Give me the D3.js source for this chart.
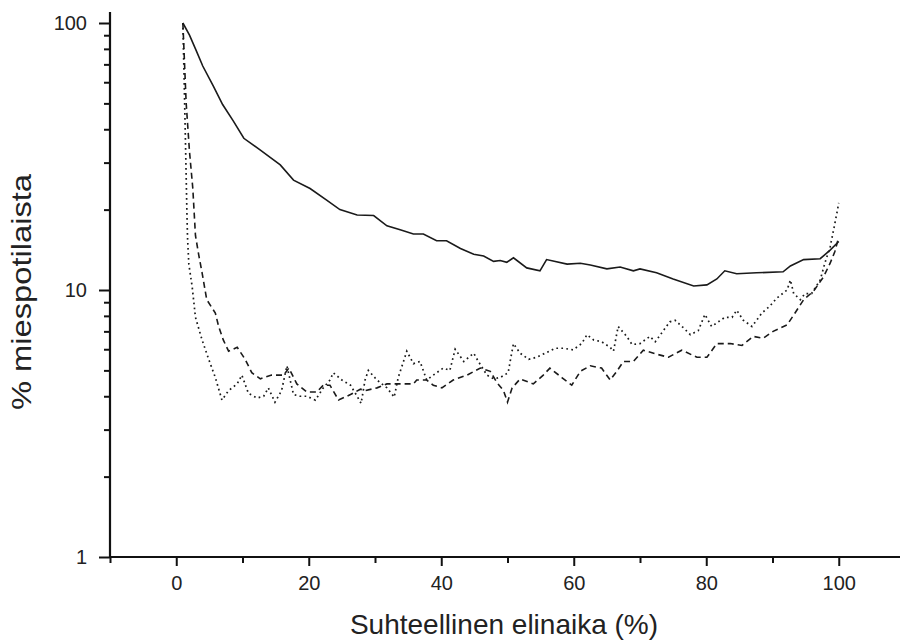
<!DOCTYPE html>
<html>
<head>
<meta charset="utf-8">
<script src="https://cdn.jsdelivr.net/npm/d3@7"></script>
<style>
  body { margin: 0; background: #fff; }
  svg { display: block; font-family: "Liberation Sans", Arial, sans-serif; }
</style>
</head>
<body>
<div id="chart"></div>
<script>
// data: [suhteellinen elinaika %, % miespotilaista]
const solidSeries = [[1,100],[2,90],[3,79],[4,69],[5.6,58],[7,49.5],[8.6,43],[10.2,37],[12.7,33.4],[15.7,29.4],[17.7,25.8],[20.2,24],[22.7,21.7],[24.7,20],[27.3,19.1],[29.8,19],[31.8,17.4],[33.8,16.8],[35.8,16.2],[37.3,16.2],[39.3,15.3],[40.8,15.3],[42.9,14.3],[44.9,13.6],[46.4,13.4],[47.9,12.8],[48.9,12.9],[49.9,12.7],[50.9,13.2],[52.9,12.1],[54.9,11.8],[55.9,13.0],[59,12.5],[61,12.6],[62.5,12.4],[65,12.0],[67,12.2],[69,11.8],[70,12.0],[72.5,11.6],[75,11.0],[78.1,10.35],[80.1,10.45],[81.6,11.0],[82.8,11.8],[84.6,11.5],[87.6,11.6],[91.6,11.7],[92.7,12.3],[94.7,13.0],[97.2,13.1],[98.7,14.1],[100,15.2]];

const dashedSeries = [[1,100],[1.5,50],[2,33],[2.5,24],[2.9,16],[3.4,13.5],[3.9,11.6],[4.6,9.2],[5.9,8.2],[6.4,7.3],[7.1,6.5],[7.9,5.9],[9.2,6.1],[10.4,5.5],[11.4,4.9],[12.7,4.65],[14.4,4.8],[16.2,4.8],[17,5.1],[18.2,4.45],[19.7,4.15],[21.2,4.15],[22.2,4.4],[23.2,4.4],[24.5,3.87],[26.3,4.06],[27.8,4.25],[28.5,4.2],[30.3,4.3],[31.8,4.45],[33.3,4.45],[35.8,4.45],[36.3,4.6],[37.8,4.6],[38.8,4.4],[40.1,4.3],[41.8,4.6],[43.9,4.8],[45.9,5.1],[47.4,4.96],[48.4,4.5],[49.4,4.2],[50,3.8],[50.7,4.3],[51.9,4.64],[53.9,4.45],[55.4,4.8],[56.4,5.1],[58.2,4.7],[59.7,4.4],[61,4.96],[62.5,5.2],[64.2,5.1],[65.5,4.6],[66.5,4.96],[67.5,5.4],[69,5.4],[70.5,5.95],[72.5,5.75],[74.3,5.6],[76.3,5.95],[78.6,5.6],[80.1,5.6],[81.6,6.3],[83.6,6.3],[85.4,6.2],[87.1,6.7],[88.6,6.6],[90.1,7.0],[92.2,7.4],[93.4,8.2],[94.7,9.2],[96.2,9.9],[97.7,11.2],[98.7,12.6],[99.4,13.9],[100,15.8]];

const dottedSeries = [[1,100],[1.2,60],[1.4,35],[1.6,20],[1.7,15.8],[1.9,12.5],[2.4,10.3],[2.9,7.9],[3.9,6.5],[4.9,5.5],[5.9,4.7],[6.9,3.87],[7.9,4.2],[9.2,4.45],[9.9,4.8],[10.9,4.1],[12.2,3.94],[13.2,4.0],[13.9,4.3],[14.9,3.8],[15.9,4.2],[16.7,5.2],[17.7,4.06],[18.7,4.0],[19.7,4.0],[21,3.87],[22.2,4.3],[23.2,4.6],[23.7,4.9],[25,4.6],[26.3,4.4],[27.3,4.0],[27.9,3.76],[28.5,4.6],[29,5.0],[30.3,4.6],[31.8,4.3],[32.9,3.97],[33.5,4.7],[34.3,5.4],[34.8,5.9],[35.8,5.3],[36.8,5.4],[37.8,4.6],[39.3,4.9],[40.3,5.1],[41.3,5.0],[42.1,6.0],[43.4,5.4],[44.9,5.8],[45.6,5.4],[46.9,4.8],[47.9,4.65],[48.9,4.7],[50.1,4.9],[50.4,5.4],[50.9,6.3],[51.9,5.8],[53.2,5.5],[54.4,5.6],[55.7,5.8],[57.2,6.05],[58.4,6.05],[59.9,5.97],[61.2,6.3],[62,6.8],[63,6.5],[64.2,6.4],[65.5,6.1],[66,5.9],[66.7,7.3],[68,6.7],[68.8,6.25],[70,6.3],[71.5,6.7],[72.3,6.4],[74.5,7.6],[75.3,7.7],[76.6,7.2],[77.6,6.8],[78.8,7.05],[79.8,8.1],[80.8,7.3],[82.8,7.9],[83.9,7.9],[84.6,8.4],[85.6,7.7],[86.9,7.3],[88.4,8.2],[89.6,8.7],[90.6,9.3],[92.2,10.0],[92.7,10.9],[93.2,9.7],[94.2,9.2],[94.9,9.7],[95.9,9.7],[97.2,10.9],[97.9,12.6],[98.7,14.5],[99.2,16.7],[99.7,19.3],[100,21.2]];

const xMajorTicks = [0, 20, 40, 60, 80, 100];
const xMinorTicks = [-10, 10, 30, 50, 70, 90, 110];
const yMajorTicks = [1, 10, 100];
const yMinorTicks = [2, 3, 4, 5, 6, 7, 8, 9, 20, 30, 40, 50, 60, 70, 80, 90];

const width = 900, height = 643;

const svg = d3.select("#chart").append("svg")
  .attr("width", width)
  .attr("height", height);

svg.append("rect").attr("width", width).attr("height", height).attr("fill", "#fff");

const x = d3.scaleLinear().domain([-10, 110]).range([110, 905]);
const y = d3.scaleLog().domain([1, 100]).range([557, 23]);

// axes (ticks only, own axis lines below)
svg.append("g")
  .attr("transform", `translate(0, ${y(1)})`)
  .call(d3.axisBottom(x).tickValues(xMajorTicks).tickSize(9).tickPadding(10).tickFormat(d3.format("d")));
svg.append("g")
  .attr("transform", `translate(0, ${y(1)})`)
  .call(d3.axisBottom(x).tickValues(xMinorTicks).tickSize(6).tickFormat(""));

svg.append("g")
  .attr("transform", `translate(${x(-10)}, 0)`)
  .call(d3.axisLeft(y).tickValues(yMajorTicks).tickSize(11).tickPadding(12).tickFormat(d3.format("d")));
svg.append("g")
  .attr("transform", `translate(${x(-10)}, 0)`)
  .call(d3.axisLeft(y).tickValues(yMinorTicks).tickSize(6).tickFormat(""));

svg.selectAll(".domain").remove();
svg.selectAll(".tick line").attr("stroke", "#111").attr("stroke-width", 2);
svg.selectAll(".tick text")
  .attr("fill", "#222")
  .style("font-size", "20px")
  .style("font-family", "'Liberation Sans', Arial, sans-serif");

// axis lines
svg.append("line")
  .attr("x1", x(-10)).attr("x2", 900)
  .attr("y1", y(1)).attr("y2", y(1))
  .attr("stroke", "#111").attr("stroke-width", 2.2);
svg.append("line")
  .attr("x1", x(-10)).attr("x2", x(-10))
  .attr("y1", y(1)).attr("y2", 12)
  .attr("stroke", "#111").attr("stroke-width", 2.2);

// curves
const line = d3.line()
  .x(d => x(d[0]))
  .y(d => y(d[1]));

svg.append("path")
  .datum(solidSeries)
  .attr("d", line)
  .attr("fill", "none")
  .attr("stroke", "#1a1a1a")
  .attr("stroke-width", 1.6);

svg.append("path")
  .datum(dashedSeries)
  .attr("d", line)
  .attr("fill", "none")
  .attr("stroke", "#1a1a1a")
  .attr("stroke-width", 1.6)
  .attr("stroke-dasharray", "6,4");

svg.append("path")
  .datum(dottedSeries)
  .attr("d", line)
  .attr("fill", "none")
  .attr("stroke", "#1a1a1a")
  .attr("stroke-width", 1.7)
  .attr("stroke-dasharray", "1.7,3.3");

// axis titles
svg.append("text")
  .attr("x", 504)
  .attr("y", 634)
  .attr("text-anchor", "middle")
  .attr("fill", "#222")
  .style("font-size", "28px")
  .text("Suhteellinen elinaika (%)");

svg.append("text")
  .attr("transform", "translate(31, 292) rotate(-90)")
  .attr("text-anchor", "middle")
  .attr("fill", "#222")
  .attr("textLength", 236)
  .attr("lengthAdjust", "spacingAndGlyphs")
  .style("font-size", "28px")
  .text("% miespotilaista");
</script>
</body>
</html>
